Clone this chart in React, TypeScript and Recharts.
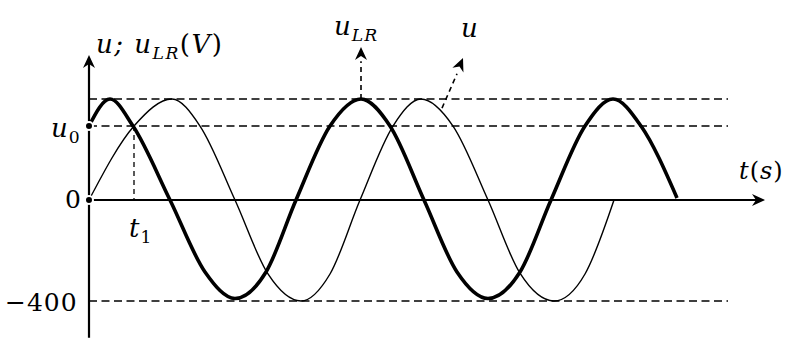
import { LineChart, Line, XAxis, YAxis, ReferenceLine, ReferenceDot } from "recharts";

// thick curve u_LR (t in px-like units, volts)
const uLRTime = [89, 110, 133, 170, 205, 235, 266, 296, 330, 361, 390, 424, 457, 488, 520, 551, 585, 613, 641, 677];
const uLRVolts = [293, 400, 293, 0, -285, -390, -285, 0, 293, 400, 293, 0, -285, -390, -285, 0, 293, 400, 293, 8];

// thin curve u
const uTime = [89, 134, 172, 200, 235, 268, 301, 330, 360, 393, 421, 453, 488, 520, 554, 585, 614];
const uVolts = [0, 293, 400, 293, 0, -293, -400, -293, 0, 293, 400, 293, 0, -290, -400, -293, 0];

const U_MAX = 400;
const U_0 = 293;
const T_1 = 134;
const PEAK_LR = 361;

const uLRData = uLRTime.map((t, i) => ({ t, v: uLRVolts[i] }));
const uData = uTime.map((t, i) => ({ t, v: uVolts[i] }));

const FONT = "'DejaVu Serif', serif";

function Arrow({ cx, cy, angle }: { cx?: number; cy?: number; angle: number }) {
  return (
    <path
      d="M0,0 L-13,-6 L-9,0 L-13,6 Z"
      transform={`translate(${cx},${cy}) rotate(${angle})`}
      fill="#000"
    />
  );
}

type Part = { s: string; sub?: boolean; it?: boolean };

function MathText({ cx, cy, parts, size = 26, spacing = 1 }: { cx?: number; cy?: number; parts: Part[]; size?: number; spacing?: number }) {
  let prevSub = false;
  return (
    <text x={cx} y={cy} fontFamily={FONT} fontSize={size} fill="#000" letterSpacing={spacing}>
      {parts.map((p, i) => {
        const dy = p.sub && !prevSub ? 6 : !p.sub && prevSub ? -6 : 0;
        prevSub = !!p.sub;
        return (
          <tspan key={i} dy={dy} fontSize={p.sub ? size * 0.66 : size} fontStyle={p.it ? "italic" : "normal"}>
            {p.s}
          </tspan>
        );
      })}
    </text>
  );
}

const dash = { stroke: "#000", strokeWidth: 1.5, strokeDasharray: "8 4.5" };

export default function App() {
  return (
    <div style={{ position: "absolute", left: 0, top: 0, background: "#fff" }}>
      <LineChart width={788} height={338} margin={{ top: 0, right: 0, bottom: 0, left: 0 }}>
        <XAxis type="number" dataKey="t" domain={[0, 788]} allowDataOverflow hide />
        <YAxis type="number" domain={[-546.5, 792.1]} allowDataOverflow hide />

        {/* guide lines */}
        <ReferenceLine segment={[{ x: 89, y: U_MAX }, { x: 728, y: U_MAX }]} {...dash} />
        <ReferenceLine segment={[{ x: 89, y: U_0 }, { x: 728, y: U_0 }]} {...dash} />
        <ReferenceLine segment={[{ x: 89, y: -U_MAX }, { x: 728, y: -U_MAX }]} {...dash} />
        <ReferenceLine segment={[{ x: T_1, y: U_0 }, { x: T_1, y: 0 }]} stroke="#000" strokeWidth={1.3} strokeDasharray="5 4" />

        {/* axes */}
        <ReferenceLine segment={[{ x: 89, y: -546 }, { x: 89, y: 560 }]} stroke="#000" strokeWidth={2.2} />
        <ReferenceDot x={89} y={574} shape={(p: any) => <Arrow cx={p.cx} cy={p.cy} angle={-90} />} />
        <ReferenceLine segment={[{ x: 89, y: 0 }, { x: 758, y: 0 }]} stroke="#000" strokeWidth={2.2} />
        <ReferenceDot x={765} y={0} shape={(p: any) => <Arrow cx={p.cx} cy={p.cy} angle={0} />} />

        {/* series */}
        <Line data={uData} dataKey="v" type="monotone" stroke="#000" strokeWidth={1.4} dot={false} isAnimationActive={false} />
        <Line data={uLRData} dataKey="v" type="monotone" stroke="#000" strokeWidth={3.6} dot={false} isAnimationActive={false} />

        {/* pointer arrows */}
        <ReferenceLine segment={[{ x: PEAK_LR, y: U_MAX }, { x: PEAK_LR, y: 550 }]} stroke="#000" strokeWidth={1.6} strokeDasharray="5 4" />
        <ReferenceDot x={PEAK_LR} y={606} shape={(p: any) => <Arrow cx={p.cx} cy={p.cy} angle={-90} />} />
        <ReferenceLine segment={[{ x: 442, y: 364 }, { x: 457, y: 500 }]} stroke="#000" strokeWidth={1.6} strokeDasharray="5 4" />
        <ReferenceDot x={463} y={562} shape={(p: any) => <Arrow cx={p.cx} cy={p.cy} angle={-67} />} />

        {/* labels */}
        <ReferenceDot x={96} y={582} shape={(p: any) => (
          <MathText cx={p.cx} cy={p.cy} spacing={1.5} parts={[{ s: "u; u", it: true }, { s: "LR", sub: true, it: true }, { s: "(" }, { s: "V", it: true }, { s: ")" }]} />
        )} />
        <ReferenceDot x={334} y={653} shape={(p: any) => (
          <MathText cx={p.cx} cy={p.cy} parts={[{ s: "u", it: true }, { s: "LR", sub: true, it: true }]} />
        )} />
        <ReferenceDot x={461} y={645} shape={(p: any) => <MathText cx={p.cx} cy={p.cy} parts={[{ s: "u", it: true }]} />} />
        <ReferenceDot x={51} y={249} shape={(p: any) => (
          <MathText cx={p.cx} cy={p.cy} parts={[{ s: "u", it: true }, { s: "0", sub: true }]} />
        )} />
        <ReferenceDot x={65} y={-32} shape={(p: any) => <MathText cx={p.cx} cy={p.cy} size={25} parts={[{ s: "0" }]} />} />
        <ReferenceDot x={129} y={-147} shape={(p: any) => (
          <MathText cx={p.cx} cy={p.cy} parts={[{ s: "t", it: true }, { s: "1", sub: true }]} />
        )} />
        <ReferenceDot x={5} y={-440} shape={(p: any) => <MathText cx={p.cx} cy={p.cy} size={25} parts={[{ s: "\u2212400" }]} />} />
        <ReferenceDot x={739} y={83} shape={(p: any) => (
          <MathText cx={p.cx} cy={p.cy} size={24} parts={[{ s: "t", it: true }, { s: "(" }, { s: "s", it: true }, { s: ")" }]} />
        )} />
      </LineChart>
    </div>
  );
}
